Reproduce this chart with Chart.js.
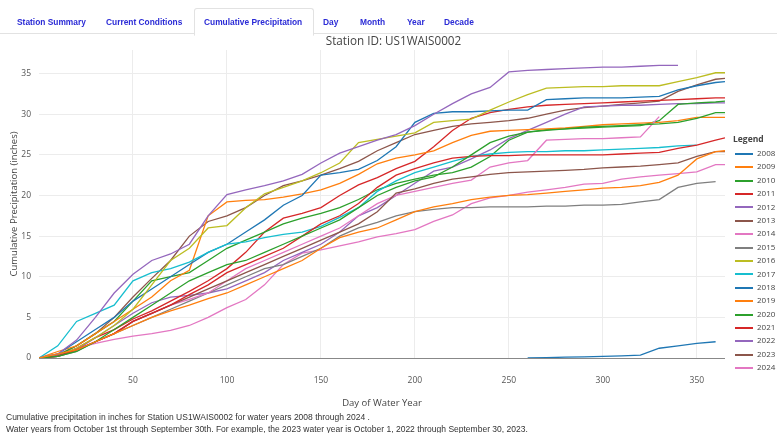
<!DOCTYPE html>
<html>
<head>
<meta charset="utf-8">
<script src="https://cdn.jsdelivr.net/npm/chart.js@4.4.1/dist/chart.umd.min.js"></script>
<style>
    body { margin: 0; background: #fff; font-family: "Liberation Sans", Arial, sans-serif; }
    #wrap { position: relative; width: 777px; height: 433px; overflow: hidden; }
    #chartBox { position: absolute; left: 0; top: 0; width: 777px; height: 420px; }
    .tabbar { position: absolute; left: 0; top: 33px; width: 777px; border-top: 1px solid #e2e2e2; }
    .tab { position: absolute; top: 17px; font-size: 8.4px; font-weight: bold; color: #2b2bd6; white-space: nowrap; }
    .tab-active { position: absolute; left: 194px; top: 8px; width: 118px; height: 26px; border: 1px solid #e2e2e2; border-bottom: 1px solid #fff; border-radius: 3px 3px 0 0; background: #fff; }
    .station { position: absolute; top: 32px; left: 0; width: 787px; text-align: center; font-family: "Open Sans", sans-serif; font-size: 11.7px; color: #444; }
    .legend { position: absolute; left: 733px; top: 133px; font-family: "Open Sans", sans-serif; font-size: 8px; color: #444; }
    .legend .ttl { font-weight: bold; font-size: 8.5px; margin-bottom: 2px; }
    .legend .item { height: 13.4px; line-height: 13.4px; white-space: nowrap; }
    .legend .sw { display: inline-block; width: 18px; height: 2px; vertical-align: middle; margin-right: 4px; margin-left: 2px; }
    .foot { position: absolute; left: 6px; font-size: 8.5px; color: #333; white-space: nowrap; }
</style>
</head>
<body>
<div id="wrap">
    <div id="chartBox"><canvas id="precipChart"></canvas></div>
    <div class="tabbar"></div>
    <div class="tab-active"></div>
    <div class="tab" style="left:17px">Station Summary</div>
    <div class="tab" style="left:106px">Current Conditions</div>
    <div class="tab" style="left:204px">Cumulative Precipitation</div>
    <div class="tab" style="left:323px">Day</div>
    <div class="tab" style="left:360px">Month</div>
    <div class="tab" style="left:407px">Year</div>
    <div class="tab" style="left:444px">Decade</div>
    <div class="station">Station ID: US1WAIS0002</div>
    <div class="legend" id="legend"><div class="ttl">Legend</div></div>
    <div class="foot" style="top:412px">Cumulative precipitation in inches for Station US1WAIS0002 for water years 2008 through 2024 .</div>
    <div class="foot" style="top:424px">Water years from October 1st through September 30th. For example, the 2023 water year is October 1, 2022 through September 30, 2023.</div>
</div>

<script>
// ===== Datos: día del año hidrológico y precipitación acumulada (pulgadas) =====
const days = [0, 10, 20, 30, 40, 50, 60, 70, 80, 90, 100, 110, 120, 130, 140, 150, 160, 170, 180, 190,
    200, 210, 220, 230, 240, 250, 260, 270, 280, 290, 300, 310, 320, 330, 340, 350, 360, 365];

const years = ['2008', '2009', '2010', '2011', '2012', '2013', '2014', '2015', '2016',
    '2017', '2018', '2019', '2020', '2021', '2022', '2023', '2024'];

const colors = ['#1f77b4', '#ff7f0e', '#2ca02c', '#d62728', '#9467bd', '#8c564b', '#e377c2', '#7f7f7f', '#bcbd22',
    '#17becf', '#1f77b4', '#ff7f0e', '#2ca02c', '#d62728', '#9467bd', '#8c564b', '#e377c2'];

const xTicks = [50, 100, 150, 200, 250, 300, 350];
const yTicks = [0, 5, 10, 15, 20, 25, 30, 35];

const wy2008 = [null, null, null, null, null, null, null, null, null, null, null, null, null, null, null, null, null, null, null, null,
    null, null, null, null, null, null, 0, 0.05, 0.1, 0.15, 0.2, 0.25, 0.35, 1.2, 1.5, 1.8, 2.0, null];
const wy2009 = [0, 0.5, 1, 2, 3, 4, 5, 5.8, 6.5, 7.3, 8, 9, 10, 11, 12, 13.5, 14.8, 15.5, 16, 17,
    18, 18.6, 19, 19.5, 19.8, 20, 20.1, 20.3, 20.5, 20.7, 20.9, 21, 21.2, 21.6, 22.5, 24.5, 25.4, 25.5];
const wy2010 = [0, 0.2, 0.8, 2, 3.5, 5, 6.5, 8, 9.5, 10.5, 11.5, 12, 13, 14, 15, 16, 17, 18.5, 20, 21,
    21.8, 22.3, 23.5, 25, 26.5, 27.3, 27.8, 28, 28.2, 28.4, 28.5, 28.6, 28.7, 28.8, 29, 29.5, 30.2, 30.2];
const wy2011 = [0, 0.2, 1, 2, 3, 4.5, 5.5, 6.5, 7.8, 9, 10.5, 11.5, 12.5, 13.5, 15, 16.5, 17.5, 19, 21, 22.5,
    23.3, 24, 24.6, 24.8, 24.9, 24.9, 25, 25, 25, 25, 25, 25.1, 25.2, 25.3, 25.8, 26.2, 26.8, 27.1];
const wy2012 = [0, 0.5, 2.2, 5, 8, 10.3, 12, 12.8, 14, 17.5, 20.1, 20.7, 21.2, 21.8, 22.6, 24, 25.2, 26, 26.8, 27.5,
    28.6, 30, 31.3, 32.5, 33.3, 35.2, 35.4, 35.5, 35.6, 35.7, 35.8, 35.8, 35.9, 36, 36, null, null, null];
const wy2013 = [0, 0.3, 1, 2, 3, 4.5, 5.5, 6.5, 7.5, 8.5, 9.5, 10.5, 11.5, 12.5, 13.5, 14.5, 15.5, 16.5, 18, 20.3,
    20.8, 21.5, 22, 22.3, 22.6, 22.8, 22.9, 23, 23.1, 23.2, 23.4, 23.5, 23.6, 23.8, 24, 24.8, 25.4, 25.4];
const wy2014 = [0, 0.3, 1, 2, 3, 4.5, 5.5, 6.5, 7.2, 8, 9.5, 11, 12, 13, 14, 15, 16, 17.5, 19, 20,
    20.5, 21, 21.5, 21.9, 23.5, 24, 24.3, 26.8, 26.9, 27, 27, 27.1, 27.2, 29.7, null, null, null, null];
const wy2015 = [0, 0.2, 0.8, 2, 3, 4, 5, 6, 7, 8, 9, 10, 11, 11.5, 12.5, 13.5, 15, 16, 16.7, 17.5,
    18, 18.3, 18.5, 18.5, 18.6, 18.6, 18.6, 18.7, 18.7, 18.8, 18.8, 18.9, 19.2, 19.5, 21, 21.5, 21.7, null];
const wy2016 = [0, 0.3, 1.2, 2.5, 4, 6, 9, 12, 13.5, 16, 16.3, 18.5, 20.2, 21, 21.8, 22.8, 24, 26.5, 26.9, 27.3,
    27.7, 29, 29.2, 29.4, 30.5, 31.5, 32.4, 33.2, 33.3, 33.4, 33.4, 33.5, 33.5, 33.5, 34, 34.5, 35.1, 35.1];
const wy2017 = [0, 1.5, 4.5, 5.5, 6.5, 9.5, 10.5, 11, 11.8, 13, 14, 14.3, 14.8, 15.2, 15.5, 16.2, 17.3, 18.5, 20.5, 21.8,
    22.8, 23.5, 24.2, 24.8, 25.1, 25.3, 25.4, 25.4, 25.5, 25.5, 25.6, 25.7, 25.8, 25.9, 26.1, 26.2, null, null];
const wy2018 = [0, 0.5, 2, 3.5, 5, 7, 8.5, 10, 11.5, 13, 14, 15.5, 17, 18.8, 20, 22.5, 22.8, 23.2, 24.3, 26,
    29, 30.1, 30.3, 30.3, 30.4, 30.5, 30.5, 31.8, 31.9, 32, 32, 32, 32.1, 32.2, 33, 33.5, 33.9, 34];
const wy2019 = [0, 0.8, 1.5, 3, 4.5, 6, 7.5, 9.5, 10.8, 17.5, 19.2, 19.4, 19.5, 19.8, 20.2, 20.7, 21.5, 22.6, 23.9, 24.6,
    25, 25.5, 26.5, 27.4, 27.9, 28, 28.1, 28.2, 28.3, 28.5, 28.7, 28.8, 28.9, 29, 29.2, 29.6, 29.6, 29.6];
const wy2020 = [0, 0.3, 1.5, 3, 4.5, 7, 9.5, 10, 10.5, 12, 13.5, 14.5, 15.5, 16.5, 17.2, 17.8, 18.5, 19.5, 20.7, 21.5,
    22, 22.5, 22.8, 23.5, 24.8, 26.8, 27.8, 28.1, 28.2, 28.3, 28.4, 28.5, 28.6, 29.2, 31.2, 31.4, 31.5, 31.6];
const wy2021 = [0, 0.3, 1.2, 2.5, 3.5, 4.8, 5.8, 7, 8.2, 9.5, 11, 13, 15.5, 17.2, 17.8, 18.5, 20, 21.3, 22.2, 23.3,
    24.2, 26, 28, 29.5, 30.2, 30.6, 30.9, 31.1, 31.2, 31.3, 31.4, 31.5, 31.6, 31.7, 31.8, 31.9, 32, 32];
const wy2022 = [0, 0.2, 1, 2.5, 4, 5.5, 6.8, 7.5, 7.7, 8, 8.5, 9.5, 10.5, 12, 13, 14, 15.5, 17.5, 18.5, 20,
    21.5, 23, 23.5, 24.5, 25.6, 27, 28, 29, 30, 30.9, 31, 31.1, 31.1, 31.2, 31.3, 31.3, 31.4, 31.4];
const wy2023 = [0, 0.4, 1.5, 3, 5, 7.5, 9.8, 12, 15, 16.8, 17.5, 18.5, 20, 21.2, 21.8, 22.5, 23.3, 24.2, 25.5, 26.5,
    27.5, 28, 28.5, 28.8, 29, 29.2, 29.5, 30, 30.5, 30.8, 31, 31.2, 31.4, 31.6, 32.8, 33.6, 34.3, 34.4];
const wy2024 = [0, 0.2, 1.2, 1.8, 2.3, 2.7, 3, 3.4, 4, 5, 6.2, 7.2, 9, 11.5, 12.9, 13.3, 13.8, 14.3, 14.9, 15.3,
    15.8, 16.8, 17.6, 19, 19.7, 20, 20.4, 20.7, 21, 21.4, 21.5, 22, 22.3, 22.5, 22.7, 22.9, 23.8, 23.8];

const seriesValues = [wy2008, wy2009, wy2010, wy2011, wy2012, wy2013, wy2014, wy2015, wy2016,
    wy2017, wy2018, wy2019, wy2020, wy2021, wy2022, wy2023, wy2024];

// ===== Leyenda en HTML =====
const legendEl = document.getElementById('legend');
years.forEach(function (yr, i) {
    const row = document.createElement('div');
    row.className = 'item';
    row.innerHTML = '<span class="sw" style="background:' + colors[i] + '"></span>' + yr;
    legendEl.appendChild(row);
});

// ===== Gráfico =====
const datasets = years.map(function (yr, i) {
    return {
        label: yr,
        data: days.map(function (d, k) { return { x: d, y: seriesValues[i][k] }; }),
        borderColor: colors[i],
        borderWidth: 1.3,
        pointRadius: 0,
        tension: 0,
        spanGaps: false,
    };
});

const tickFont = { family: 'Open Sans', size: 8.5 };

new Chart(document.getElementById('precipChart').getContext('2d'), {
    type: 'line',
    data: { datasets: datasets },
    options: {
        responsive: true,
        maintainAspectRatio: false,
        animation: false,
        layout: { padding: { left: 0, right: 52, top: 50, bottom: 0 } },
        plugins: { legend: { display: false }, tooltip: { enabled: false } },
        scales: {
            x: {
                type: 'linear',
                min: 0,
                max: 365,
                afterBuildTicks: function (scale) { scale.ticks = xTicks.map(function (v) { return { value: v }; }); },
                afterFit: function (scale) { scale.height = 62; },
                border: { display: false },
                grid: { color: '#ececec', drawTicks: false },
                ticks: { color: '#555', font: tickFont, padding: 17, maxRotation: 0 },
                title: { display: true, text: 'Day of Water Year', color: '#444', font: { family: 'Open Sans', size: 9.5 }, padding: { top: 0, bottom: 11 } },
            },
            y: {
                min: 0,
                max: 37.9,
                afterBuildTicks: function (scale) { scale.ticks = yTicks.map(function (v) { return { value: v }; }); },
                afterFit: function (scale) { scale.width = 39; },
                border: { display: false },
                grid: {
                    drawTicks: false,
                    color: function (ctx) { return ctx.tick && ctx.tick.value === 0 ? '#888' : '#ececec'; },
                },
                ticks: { color: '#555', font: tickFont, padding: 8 },
                title: { display: true, text: 'Cumulative Precipitation (inches)', color: '#444', font: { family: 'Open Sans', size: 9.5 }, padding: { top: 9, bottom: 0 } },
            },
        },
    },
});
</script>
</body>
</html>
